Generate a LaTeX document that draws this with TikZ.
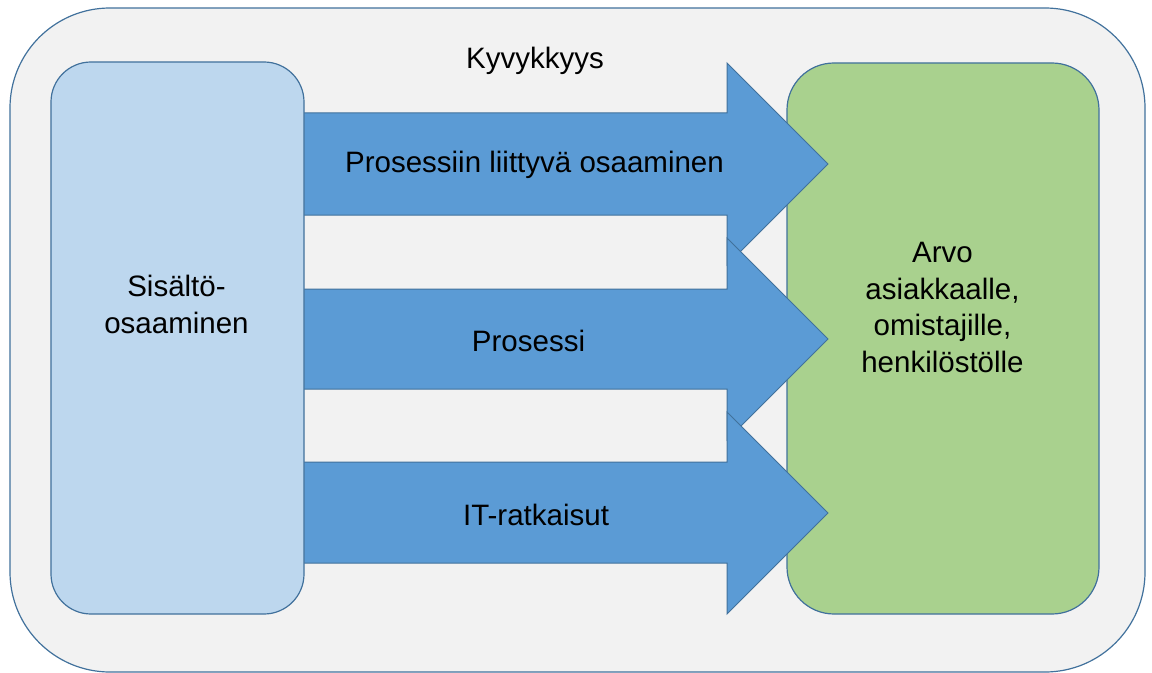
\documentclass[tikz,border=0pt]{standalone}
\usepackage{fontspec}
\setmainfont{Liberation Sans}
\definecolor{reuna}{HTML}{41719C}
\definecolor{tausta}{HTML}{F2F2F2}
\definecolor{vaaleansininen}{HTML}{BDD7EE}
\definecolor{vihrea}{HTML}{A9D18E}
\definecolor{sininen}{HTML}{5B9BD5}
\begin{document}
\begin{tikzpicture}
  [x=1bp,y=-1bp,
   every node/.style={font=\fontsize{29.5bp}{36.5bp}\selectfont,text=black},
   laatikko/.style={rectangle,draw=reuna,line width=1.2bp,inner sep=0pt},
   ulko/.style={laatikko,fill=tausta,rounded corners=100bp},
   sisalto/.style={laatikko,fill=vaaleansininen,rounded corners=40bp},
   arvo/.style={laatikko,fill=vihrea,rounded corners=47bp},
   nuoli/.style={fill=sininen,draw=reuna,line width=1bp,line join=miter},
   teksti/.style={anchor=base,align=center,inner sep=0pt}]

  \useasboundingbox (0,0) rectangle (1152,673);

  % kehykset
  \node [ulko, minimum width=1135bp, minimum height=664bp] (K) at (577.5,340) {};
  \node [arvo, minimum width=312bp, minimum height=551bp] (A) at (943,338.5) {};

  % nuolet
  \draw [nuoli] (290,113) -- (727,113) -- (727,63) -- (828,164) -- (727,265) -- (727,215) -- (290,215) -- cycle;
  \draw [nuoli] (290,289) -- (727,289) -- (727,238) -- (828,339) -- (727,440) -- (727,389) -- (290,389) -- cycle;
  \draw [nuoli] (290,462) -- (727,462) -- (727,412) -- (828,513) -- (727,614) -- (727,563) -- (290,563) -- cycle;

  \node [sisalto, minimum width=253bp, minimum height=552bp] (S) at (177.5,338) {};

  % tekstit (monirivisissa base = viimeinen rivi)
  \node [teksti] (Kt) at (535,69) {Kyvykkyys};
  \node [teksti] (P1) at (534.5,173) {Prosessiin liittyvä osaaminen};
  \node [teksti] (P2) at (528.5,351) {Prosessi};
  \node [teksti] (P3) at (536,525) {IT-ratkaisut};
  \node [teksti] (St) at (176.5,333) {Sisältö-\\osaaminen};
  \node [teksti] (At) at (942.5,372) {Arvo\\asiakkaalle,\\omistajille,\\henkilöstölle};
\end{tikzpicture}
\end{document}
